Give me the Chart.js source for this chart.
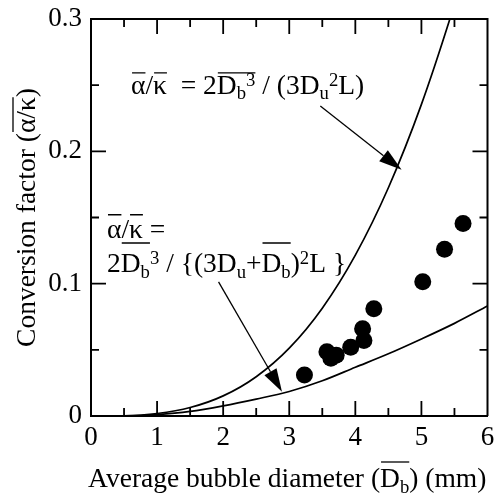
<!DOCTYPE html>
<html>
<head>
<meta charset="utf-8">
<script src="https://cdn.jsdelivr.net/npm/chart.js@4/dist/chart.umd.min.js"></script>
<style>
  html, body { margin: 0; padding: 0; background: #fff; }
  #wrap { width: 496px; height: 499px; }
</style>
</head>
<body>
<div id="wrap"><canvas id="chart" width="496" height="499"></canvas></div>
<script>
const FONT = '"Liberation Serif", "Times New Roman", serif';

// Model curves sampled along the bubble diameter (mm)
const curveDiameter = [0, 0.5, 1, 1.5, 2, 2.5, 3, 3.5, 4, 4.5, 5, 5.5, 6];
const simpleModel   = [0, 0.0002, 0.0019, 0.0064, 0.0152, 0.0297, 0.0513, 0.0815, 0.1216, 0.1725, 0.2355, 0.3110, 0.3950];
const swarmModel    = [0, 0.0001, 0.0011, 0.0035, 0.0077, 0.0128, 0.0185, 0.0266, 0.0368, 0.0470, 0.0582, 0.0700, 0.0831];

// Measured conversion factors
const bubbleDiameter   = [3.23, 3.57, 3.63, 3.71, 3.93, 4.11, 4.13, 4.28, 5.02, 5.35, 5.63];
const conversionFactor = [0.031, 0.0486, 0.0436, 0.046, 0.052, 0.066, 0.057, 0.081, 0.1015, 0.126, 0.1455];

// Axis ticks
const xTicks = [0, 1, 2, 3, 4, 5, 6];
const xTickText = ['0', '1', '2', '3', '4', '5', '6'];
const yTicks = [0, 0.1, 0.2, 0.3];
const yTickText = ['0', '0.1', '0.2', '0.3'];

const toPoints = (xs, ys) => xs.map((x, i) => ({ x, y: ys[i] }));

// Rich text: runs of {t, s:'sub'|'sup', o:overline}
const SMALL = 0.68;
function measureRich(ctx, runs, size) {
  let w = 0;
  for (const r of runs) {
    ctx.font = `${r.s ? size * SMALL : size}px ${FONT}`;
    w += ctx.measureText(r.t).width;
  }
  return w;
}
function drawRich(ctx, x, y, runs, size, overRise) {
  let cx = x;
  const bars = [];
  let bar = null;
  ctx.textBaseline = 'alphabetic';
  ctx.textAlign = 'left';
  for (const r of runs) {
    const fs = r.s ? size * SMALL : size;
    ctx.font = `${fs}px ${FONT}`;
    const w = ctx.measureText(r.t).width;
    const dy = r.s === 'sub' ? size * 0.2 : (r.s === 'sup' ? -size * 0.3 : 0);
    ctx.fillText(r.t, cx, y + dy);
    if (r.o) {
      if (bar) bar[1] = cx + w; else bar = [cx + 1, cx + w];
    } else if (bar) { bars.push(bar); bar = null; }
    cx += w;
  }
  if (bar) bars.push(bar);
  ctx.lineWidth = 1.3;
  ctx.beginPath();
  for (const [a, b] of bars) {
    ctx.moveTo(a, y - overRise);
    ctx.lineTo(b, y - overRise);
  }
  ctx.stroke();
}
function drawArrow(ctx, x0, y0, x1, y1) {
  const ang = Math.atan2(y1 - y0, x1 - x0);
  const len = 23, half = 7;
  const bx = x1 - len * Math.cos(ang), by = y1 - len * Math.sin(ang);
  ctx.lineWidth = 1.3;
  ctx.beginPath();
  ctx.moveTo(x0, y0);
  ctx.lineTo(bx, by);
  ctx.stroke();
  ctx.beginPath();
  ctx.moveTo(x1, y1);
  ctx.lineTo(bx + half * Math.sin(ang), by - half * Math.cos(ang));
  ctx.lineTo(bx - half * Math.sin(ang), by + half * Math.cos(ang));
  ctx.closePath();
  ctx.fill();
}

const TXT = 27.5;

const frameAndLabels = {
  id: 'frameAndLabels',
  afterDatasetsDraw(chart) {
    const { ctx, chartArea: a, scales: { x, y } } = chart;
    ctx.save();
    ctx.strokeStyle = '#000';
    ctx.fillStyle = '#000';

    // closing frame lines
    ctx.lineWidth = 2;
    ctx.beginPath();
    ctx.moveTo(a.left, a.top);
    ctx.lineTo(a.right, a.top);
    ctx.lineTo(a.right, a.bottom);
    ctx.stroke();

    // inward ticks on all four sides
    ctx.lineWidth = 1.8;
    ctx.beginPath();
    for (let v = 0.5; v < 6; v += 0.5) {
      const px = x.getPixelForValue(v);
      const L = Number.isInteger(v) ? 15 : 8;
      ctx.moveTo(px, a.bottom); ctx.lineTo(px, a.bottom - L);
      ctx.moveTo(px, a.top); ctx.lineTo(px, a.top + L);
    }
    for (let k = 1; k < 6; k++) {
      const v = k * 0.05;
      const py = y.getPixelForValue(v);
      const L = k % 2 === 0 ? 15 : 8;
      ctx.moveTo(a.left, py); ctx.lineTo(a.left + L, py);
      ctx.moveTo(a.right, py); ctx.lineTo(a.right - L, py);
    }
    ctx.stroke();

    // annotation: simple model
    drawRich(ctx, x.getPixelForValue(0.606), y.getPixelForValue(0.2434), [
      { t: 'α', o: 1 }, { t: '/' }, { t: 'κ', o: 1 }, { t: '  = 2' },
      { t: 'D', o: 1 }, { t: 'b', s: 'sub', o: 1 }, { t: '3', s: 'sup', o: 1 },
      { t: ' / (3D' }, { t: 'u', s: 'sub' }, { t: '2', s: 'sup' }, { t: 'L)' }
    ], TXT, 21);
    drawArrow(ctx, x.getPixelForValue(3.47), y.getPixelForValue(0.2343),
                   x.getPixelForValue(4.70), y.getPixelForValue(0.186));

    // annotation: swarm-corrected model
    drawRich(ctx, x.getPixelForValue(0.242), y.getPixelForValue(0.1347), [
      { t: 'α', o: 1 }, { t: '/' }, { t: 'κ', o: 1 }, { t: ' =' }
    ], TXT, 23);
    drawRich(ctx, x.getPixelForValue(0.242), y.getPixelForValue(0.1088), [
      { t: '2' }, { t: 'D', o: 1 }, { t: 'b', s: 'sub', o: 1 }, { t: '3', s: 'sup' },
      { t: ' / {(3D' }, { t: 'u', s: 'sub' }, { t: '+' },
      { t: 'D', o: 1 }, { t: 'b', s: 'sub', o: 1 }, { t: ')' }, { t: '2', s: 'sup' }, { t: 'L }' }
    ], TXT, 29);
    drawArrow(ctx, x.getPixelForValue(1.93), y.getPixelForValue(0.1014),
                   x.getPixelForValue(2.89), y.getPixelForValue(0.0184));

    // axis titles
    const xRuns = [{ t: 'Average bubble diameter (' }, { t: 'D', o: 1 }, { t: 'b', s: 'sub', o: 1 }, { t: ') (mm)' }];
    const xw = measureRich(ctx, xRuns, TXT);
    drawRich(ctx, (a.left + a.right) / 2 - 2 - xw / 2, 487, xRuns, TXT, 25);

    const yRuns = [{ t: 'Conversion factor (' }, { t: 'α/κ', o: 1 }, { t: ')' }];
    const yw = measureRich(ctx, yRuns, TXT);
    ctx.translate(35, (a.top + a.bottom) / 2);
    ctx.rotate(-Math.PI / 2);
    drawRich(ctx, -yw / 2, 0, yRuns, TXT, 22);
    ctx.restore();
  }
};

new Chart(document.getElementById('chart'), {
  type: 'scatter',
  data: {
    datasets: [
      {
        data: toPoints(bubbleDiameter, conversionFactor),
        pointRadius: 8.5, pointHoverRadius: 8.5,
        backgroundColor: '#000', borderWidth: 0
      },
      {
        data: toPoints(curveDiameter, simpleModel),
        showLine: true, pointRadius: 0, borderColor: '#000', borderWidth: 1.7,
        cubicInterpolationMode: 'monotone'
      },
      {
        data: toPoints(curveDiameter, swarmModel),
        showLine: true, pointRadius: 0, borderColor: '#000', borderWidth: 1.7,
        cubicInterpolationMode: 'monotone'
      }
    ]
  },
  options: {
    responsive: false,
    animation: false,
    events: [],
    layout: { padding: { top: 19, right: 8, left: 0, bottom: 0 } },
    plugins: { legend: { display: false }, tooltip: { enabled: false } },
    scales: {
      x: {
        type: 'linear', min: 0, max: 6,
        afterBuildTicks: s => { s.ticks = xTicks.map(v => ({ value: v })); },
        afterFit: s => { s.height = 83; s.paddingLeft = 0; s.paddingRight = 0; },
        grid: { display: false, drawTicks: false },
        border: { display: true, color: '#000', width: 2 },
        ticks: {
          padding: 6, color: '#000', maxRotation: 0, autoSkip: false,
          font: { family: FONT, size: 27 },
          callback: v => xTickText[xTicks.indexOf(v)]
        }
      },
      y: {
        type: 'linear', min: 0, max: 0.3,
        afterBuildTicks: s => { s.ticks = yTicks.map(v => ({ value: v })); },
        afterFit: s => { s.width = 91; s.paddingTop = 0; s.paddingBottom = 0; },
        grid: { display: false, drawTicks: false },
        border: { display: true, color: '#000', width: 2 },
        ticks: {
          padding: 9, color: '#000', autoSkip: false,
          font: { family: FONT, size: 27 },
          callback: v => yTickText[yTicks.findIndex(t => Math.abs(t - v) < 1e-9)]
        }
      }
    }
  },
  plugins: [frameAndLabels]
});
</script>
</body>
</html>
